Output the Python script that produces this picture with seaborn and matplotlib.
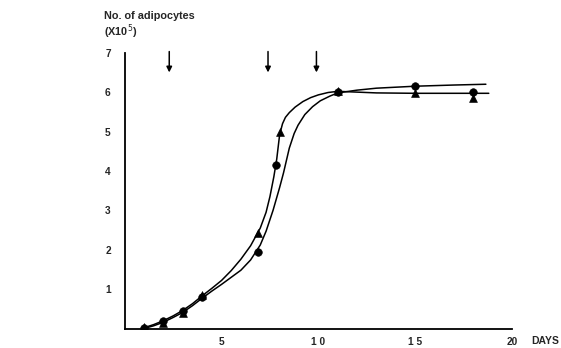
import matplotlib
matplotlib.use("Agg")
import matplotlib.pyplot as plt
import seaborn as sns
import pandas as pd

# Fitted growth curves
curve_a_days = [1, 1.5, 2, 2.5, 3, 3.5, 4, 4.5, 5, 5.5, 6, 6.5, 7, 7.3, 7.5, 7.7, 7.85, 8.0, 8.15, 8.3, 8.5, 8.8, 9.2, 9.6, 10, 10.5, 11, 12, 13, 15, 17, 18.8]
curve_a_vals = [0.02, 0.1, 0.2, 0.32, 0.46, 0.63, 0.83, 1.02, 1.22, 1.47, 1.76, 2.1, 2.55, 2.95, 3.35, 3.85, 4.3, 4.92, 5.2, 5.36, 5.48, 5.62, 5.76, 5.86, 5.93, 5.99, 6.02, 6.0, 5.98, 5.97, 5.97, 5.97]
curve_b_days = [1, 1.5, 2, 2.5, 3, 3.5, 4, 4.5, 5, 5.5, 6, 6.5, 7, 7.3, 7.66, 8.0, 8.2, 8.5, 8.75, 8.95, 9.3, 9.7, 10.1, 10.6, 11, 12, 13, 15, 17, 18.65]
curve_b_vals = [0.0, 0.07, 0.16, 0.28, 0.41, 0.58, 0.77, 0.95, 1.12, 1.3, 1.48, 1.74, 2.12, 2.47, 3.0, 3.58, 3.95, 4.58, 4.95, 5.16, 5.43, 5.63, 5.78, 5.9, 5.98, 6.05, 6.1, 6.15, 6.18, 6.2]

# Measured points
circle_days = [1, 2, 3, 4, 6.9, 7.8, 11, 15, 18]
circle_vals = [0.02, 0.2, 0.44, 0.8, 1.95, 4.15, 6.0, 6.15, 6.0]
triangle_days = [1, 2, 3, 4, 6.9, 8.0, 11, 15, 18]
triangle_vals = [0.05, 0.15, 0.4, 0.85, 2.42, 5.0, 6.02, 5.97, 5.84]

arrow_days = [2.3, 7.4, 9.9]

x_ticks = [5, 10, 15, 20]
x_tick_labels = ["5", "1 0", "1 5", "20"]
y_ticks = [1, 2, 3, 4, 5, 6, 7]
y_tick_labels = ["1", "2", "3", "4", "5", "6", "7"]

sns.set_style("white")
plt.rcParams["font.family"] = ["Liberation Sans", "DejaVu Sans"]

fig = plt.figure(figsize=(5.61, 3.48), dpi=100)
ax = fig.add_axes([0.2223, 0.056, 0.6904, 0.7925])

df_a = pd.DataFrame({"day": curve_a_days, "val": curve_a_vals})
df_b = pd.DataFrame({"day": curve_b_days, "val": curve_b_vals})
sns.lineplot(data=df_a, x="day", y="val", ax=ax, color="black", lw=1.1, sort=False)
sns.lineplot(data=df_b, x="day", y="val", ax=ax, color="black", lw=1.1, sort=False)

sns.scatterplot(x=circle_days, y=circle_vals, ax=ax, marker="o", color="black", s=30, edgecolor="black", zorder=5)
sns.scatterplot(x=triangle_days, y=triangle_vals, ax=ax, marker="^", color="black", s=32, edgecolor="black", zorder=5)

for d in arrow_days:
    ax.annotate("", xy=(d, 6.5), xytext=(d, 7.03),
                arrowprops=dict(arrowstyle="-|>", color="black", lw=1.1,
                                mutation_scale=8, shrinkA=0, shrinkB=0),
                annotation_clip=False)

ax.set_xlim(0, 20)
ax.set_ylim(0, 7)
ax.set_xticks(x_ticks)
ax.set_xticklabels(x_tick_labels, fontsize=7.3, fontweight="bold")
ax.set_yticks(y_ticks)
ax.set_yticklabels(y_tick_labels, fontsize=7.3, fontweight="bold")
ax.tick_params(axis="both", direction="inout", length=6, width=1.0, color="black")
ax.tick_params(axis="y", pad=7)
ax.tick_params(axis="x", pad=3)
ax.set_xlabel("")
ax.set_ylabel("")
for side in ["top", "right"]:
    ax.spines[side].set_visible(False)
for side in ["left", "bottom"]:
    ax.spines[side].set_color("black")
    ax.spines[side].set_linewidth(1.3)

fig.text(104 / 561, 1 - 16 / 348, "No. of adipocytes", fontsize=7.8, fontweight="bold", va="center", ha="left")
fig.text(104 / 561, 1 - 32 / 348, "(X10$^5$)", fontsize=7.8, fontweight="bold", va="center", ha="left")
fig.text(531 / 561, 1 - 341 / 348, "DAYS", fontsize=7.5, fontweight="bold", va="center", ha="left")

fig.savefig("out.png", dpi=100, facecolor="white")
